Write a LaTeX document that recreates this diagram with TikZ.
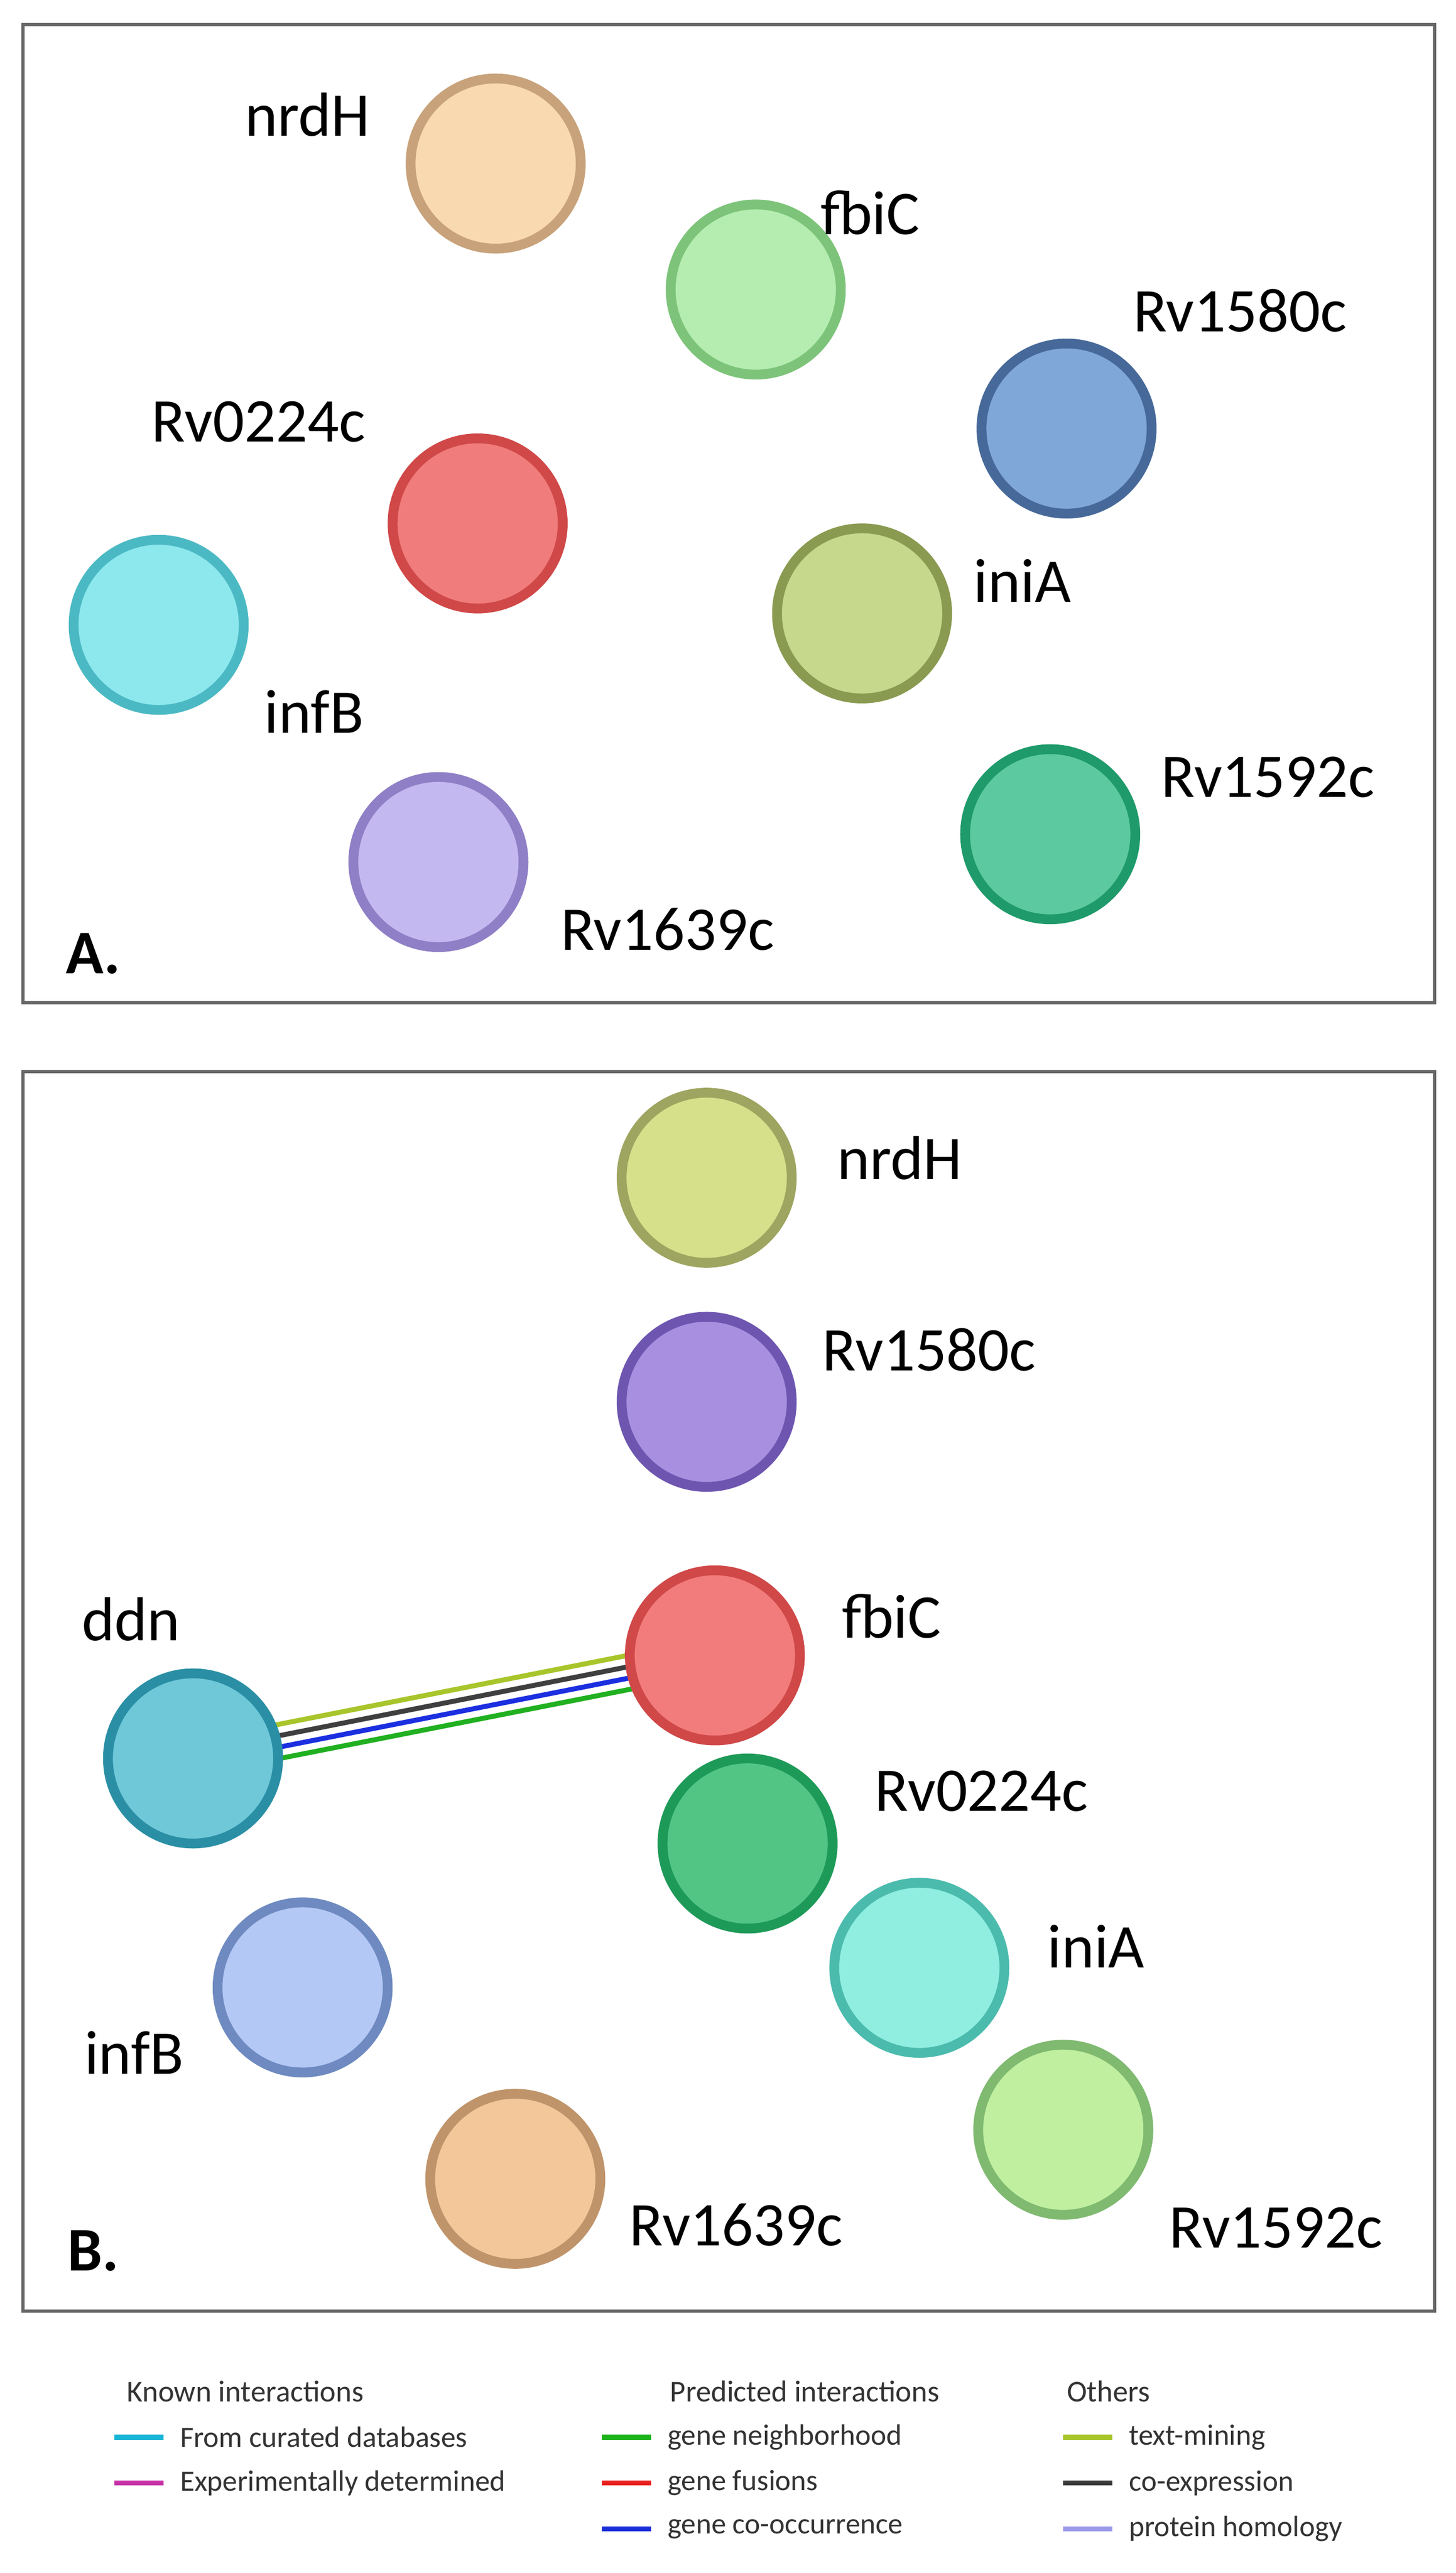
\documentclass[tikz,border=0pt]{standalone}
\usepackage{fontspec}
\setmainfont{Carlito}
\usetikzlibrary{backgrounds}
\begin{document}
\begin{tikzpicture}[x=1pt,y=-1pt,
 prot/.style={circle,minimum size=104pt,line width=6pt,inner sep=0pt},
 lab/.style={font=\fontsize{38}{42}\selectfont,inner sep=0pt},
 pan/.style={draw=black!60,line width=2pt},
 leg/.style={font=\fontsize{18}{20}\selectfont,anchor=west,inner sep=0pt,text=black!80},
 legh/.style={font=\fontsize{18.5}{20}\selectfont,inner sep=0pt,text=black!80},
 ll/.style={line width=3pt}]
\useasboundingbox (0,0) rectangle (890,1573);
\draw[pan] (14,15) rectangle (877,613);
\draw[pan] (14,655) rectangle (877,1413);
% Panel A
\node[prot,fill={rgb,255:red,249;green,217;blue,176},draw={rgb,255:red,200;green,162;blue,122}] (anrdH) at (303,100) {};
\node[prot,fill={rgb,255:red,181;green,237;blue,176},draw={rgb,255:red,125;green,196;blue,122}] (afbiC) at (462,177) {};
\node[prot,fill={rgb,255:red,127;green,167;blue,216},draw={rgb,255:red,70;green,105;blue,154}] (aRv1580c) at (652,262) {};
\node[prot,fill={rgb,255:red,240;green,124;blue,124},draw={rgb,255:red,208;green,72;blue,72}] (aRv0224c) at (292,320) {};
\node[prot,fill={rgb,255:red,141;green,232;blue,238},draw={rgb,255:red,75;green,185;blue,195}] (ainfB) at (97,382) {};
\node[prot,fill={rgb,255:red,197;green,216;blue,140},draw={rgb,255:red,138;green,154;blue,80}] (ainiA) at (527,375) {};
\node[prot,fill={rgb,255:red,92;green,201;blue,160},draw={rgb,255:red,31;green,154;blue,106}] (aRv1592c) at (642,510) {};
\node[prot,fill={rgb,255:red,196;green,184;blue,240},draw={rgb,255:red,143;green,127;blue,198}] (aRv1639c) at (268,527) {};
\node[lab] (lanrdH) at (188,70) {nrdH};
\node[lab] (lafbiC) at (532,130) {fbiC};
\node[lab] (laRv1580c) at (758,190) {Rv1580c};
\node[lab] (laRv0224c) at (158,258) {Rv0224c};
\node[lab] (lainfB) at (192,435) {infB};
\node[lab] (lainiA) at (625,355) {iniA};
\node[lab] (laRv1592c) at (775,475) {Rv1592c};
\node[lab] (laRv1639c) at (408,568) {Rv1639c};
\node[lab,font=\fontsize{38}{42}\selectfont\bfseries] (pA) at (57,583) {A.};
% Panel B
\node[prot,fill={rgb,255:red,214;green,224;blue,138},draw={rgb,255:red,158;green,165;blue,96}] (bnrdH) at (432,720) {};
\node[prot,fill={rgb,255:red,168;green,143;blue,224},draw={rgb,255:red,110;green,86;blue,176}] (bRv1580c) at (432,857) {};
\node[prot,fill={rgb,255:red,242;green,124;blue,124},draw={rgb,255:red,208;green,72;blue,72}] (bfbiC) at (437,1012) {};
\node[prot,fill={rgb,255:red,111;green,200;blue,216},draw={rgb,255:red,42;green,143;blue,165}] (bddn) at (118,1075) {};
\node[prot,fill={rgb,255:red,82;green,197;blue,133},draw={rgb,255:red,30;green,154;blue,88}] (bRv0224c) at (457,1127) {};
\node[prot,fill={rgb,255:red,143;green,238;blue,224},draw={rgb,255:red,75;green,187;blue,173}] (biniA) at (562,1203) {};
\node[prot,fill={rgb,255:red,180;green,200;blue,245},draw={rgb,255:red,110;green,138;blue,192}] (binfB) at (185,1215) {};
\node[prot,fill={rgb,255:red,243;green,199;blue,154},draw={rgb,255:red,192;green,148;blue,106}] (bRv1639c) at (315,1332) {};
\node[prot,fill={rgb,255:red,192;green,239;blue,160},draw={rgb,255:red,127;green,186;blue,112}] (bRv1592c) at (650,1302) {};
\begin{scope}[on background layer]
\fill[white] (0,0) rectangle (890,1573);
\draw[ll,draw={rgb,255:red,168;green,197;blue,43}] ([yshift=10.5pt]bddn.center) -- ([yshift=10.5pt]bfbiC.center);
\draw[ll,draw={rgb,255:red,63;green,63;blue,63}] ([yshift=3.5pt]bddn.center) -- ([yshift=3.5pt]bfbiC.center);
\draw[ll,draw={rgb,255:red,27;green,47;blue,224}] ([yshift=-3.5pt]bddn.center) -- ([yshift=-3.5pt]bfbiC.center);
\draw[ll,draw={rgb,255:red,32;green,176;blue,32}] ([yshift=-10.5pt]bddn.center) -- ([yshift=-10.5pt]bfbiC.center);
\end{scope}
\node[lab] (lbnrdH) at (550,708) {nrdH};
\node[lab] (lbRv1580c) at (568,825) {Rv1580c};
\node[lab] (lbfbiC) at (545,988) {fbiC};
\node[lab] (lbddn) at (80,990) {ddn};
\node[lab] (lbRv0224c) at (600,1095) {Rv0224c};
\node[lab] (lbiniA) at (670,1190) {iniA};
\node[lab] (lbinfB) at (82,1255) {infB};
\node[lab] (lbRv1639c) at (450,1360) {Rv1639c};
\node[lab] (lbRv1592c) at (780,1362) {Rv1592c};
\node[lab,font=\fontsize{38}{42}\selectfont\bfseries] (pB) at (57,1376) {B.};
% Legend
\node[legh] (h1) at (150,1462) {Known interactions};
\node[legh] (h2) at (492,1462) {Predicted interactions};
\node[legh,anchor=west] (h3) at (652,1462) {Others};
\coordinate (k1a) at (70,1490); \coordinate (k1b) at (100,1490);
\coordinate (k2a) at (70,1518); \coordinate (k2b) at (100,1518);
\coordinate (p1a) at (368,1490); \coordinate (p1b) at (398,1490);
\coordinate (p2a) at (368,1518); \coordinate (p2b) at (398,1518);
\coordinate (p3a) at (368,1546); \coordinate (p3b) at (398,1546);
\coordinate (o1a) at (650,1490); \coordinate (o1b) at (680,1490);
\coordinate (o2a) at (650,1518); \coordinate (o2b) at (680,1518);
\coordinate (o3a) at (650,1546); \coordinate (o3b) at (680,1546);
\draw[ll,draw={rgb,255:red,25;green,181;blue,214}] (k1a) -- (k1b);
\draw[ll,draw={rgb,255:red,200;green,50;blue,168}] (k2a) -- (k2b);
\draw[ll,draw={rgb,255:red,29;green,179;blue,29}] (p1a) -- (p1b);
\draw[ll,draw={rgb,255:red,232;green,33;blue,31}] (p2a) -- (p2b);
\draw[ll,draw={rgb,255:red,27;green,47;blue,216}] (p3a) -- (p3b);
\draw[ll,draw={rgb,255:red,168;green,197;blue,43}] (o1a) -- (o1b);
\draw[ll,draw={rgb,255:red,58;green,58;blue,58}] (o2a) -- (o2b);
\draw[ll,draw={rgb,255:red,154;green,154;blue,232}] (o3a) -- (o3b);
\node[leg] (t1) at (110,1490) {From curated databases};
\node[leg] (t2) at (110,1518) {Experimentally determined};
\node[leg] (t3) at (408,1490) {gene neighborhood};
\node[leg] (t4) at (408,1518) {gene fusions};
\node[leg] (t5) at (408,1546) {gene co-occurrence};
\node[leg] (t6) at (690,1490) {text-mining};
\node[leg] (t7) at (690,1518) {co-expression};
\node[leg] (t8) at (690,1546) {protein homology};
\end{tikzpicture}
\end{document}
